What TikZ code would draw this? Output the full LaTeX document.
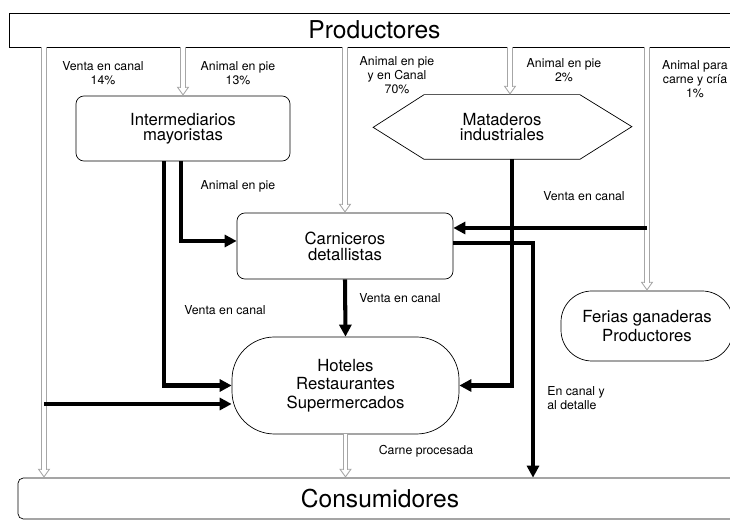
\documentclass[tikz,border=0pt]{standalone}
\usepackage{fontspec}
\setmainfont{TeX Gyre Heros}
\usetikzlibrary{arrows.meta,positioning}

\begin{document}
\begin{tikzpicture}[
	caja/.style={draw, rounded corners=4.5pt, align=center, font=\fontsize{9.5}{10.5}\selectfont},
	titulo/.style={draw, font=\fontsize{14}{16}\selectfont},
	etiq/.style={align=center, inner sep=0pt, font=\fontsize{7}{7.8}\selectfont},
	flujo/.style={line width=2.3pt, -{Triangle[length=6.8pt,width=6.8pt]}},
	gris/.style={draw=gray!70, line width=0.5pt, -{Triangle[open,length=5pt,width=7pt]},
		postaction={draw=gray!70, double=white, double distance=2.2pt, -, shorten >=4.6pt}}
	]
		\useasboundingbox (0,0) rectangle (14.6,10.42);
		% extremos de la cadena
		\node[titulo, minimum width=14.62cm, minimum height=0.68cm] (prod) at (7.49,9.82) {Productores};
		\node[titulo, rounded corners=3pt, minimum width=14.48cm, minimum height=0.82cm] (cons) at (7.6,0.45) {Consumidores};
		% agentes
		\node[caja, minimum width=4.28cm, minimum height=1.3cm] (inter) at (3.66,7.85) {Intermediarios\\[-2.2pt]mayoristas};
		\node[align=center, font=\fontsize{9.5}{10.5}\selectfont, minimum width=3.1cm, minimum height=1.28cm] (mat) at (10.04,7.88) {Mataderos\\[-2.2pt]industriales};
		\draw (mat.north west) -- (mat.north east) -- ++(1.04,-0.64) -- (mat.south east) -- (mat.south west) -- ++(-1.02,0.64) -- cycle;
		\node[caja, minimum width=4.32cm, minimum height=1.32cm] (carn) at (6.9,5.5) {Carniceros\\[-1.5pt]detallistas};
		\node[caja, rounded corners=0.85cm, minimum width=4.54cm, minimum height=1.94cm] (hot) at (6.91,2.71) {Hoteles\\Restaurantes\\Supermercados};
		\node[caja, rounded corners=0.62cm, minimum width=3.44cm, minimum height=1.4cm] (fer) at (12.94,3.9) {Ferias ganaderas\\Productores};
		\coordinate (venta) at (0.88,2.34);
		\coordinate (matn) at ([xshift=0.16cm]mat.north);
		\coordinate (dd) at ([yshift=0.36cm]carn.east);
		% flujos desde productores
		\draw[gris] (prod.south -| venta) -- (cons.north -| venta);
		\draw[gris] (prod.south -| inter.north) -- (inter.north);
		\draw[gris] (prod.south -| carn.north) -- (carn.north);
		\draw[gris] (prod.south -| matn) -- (matn);
		\draw[gris] (prod.south -| fer.north) -- (fer.north);
		\draw[gris] (hot.south) -- (hot.south |- cons.north);
		% flujos de carne
		\draw[flujo] ([xshift=-0.38cm]inter.south) |- (hot.west);
		\draw[flujo] ([xshift=-0.04cm]inter.south) |- ([yshift=0.1cm]carn.west);
		\draw[flujo] ([xshift=0.2cm]mat.south) |- (hot.east);
		\draw[flujo] (dd -| fer.north) -- (dd);
		\draw[flujo] ([yshift=0.06cm]carn.east) -| ([xshift=3.06cm]cons.north);
		\draw[flujo] (carn.south) -- (hot.north);
		\draw[flujo] (venta) -- (venta -| hot.west);
		% etiquetas
		\node[etiq] (l14) at (2.06,8.96) {Venta en canal\\14\%};
		\node[etiq] (l13) at (4.76,8.96) {Animal en pie\\13\%};
		\node[etiq] (l70) at (7.94,8.92) {Animal en pie\\y en Canal\\70\%};
		\node[etiq] (l2) at (11.28,9.02) {Animal en pie\\2\%};
		\node[etiq] (l1) at (13.9,8.84) {Animal para\\carne y cría\\1\%};
		\node[etiq] (lpie) at (4.76,6.7) {Animal en pie};
		\node[etiq] (lcanal1) at (4.5,4.22) {Venta en canal};
		\node[etiq] (lcanal2) at (8.0,4.46) {Venta en canal};
		\node[etiq] (lcanal3) at (11.68,6.5) {Venta en canal};
		\node[etiq, anchor=west, align=left] (ldet) at (10.94,2.46) {En canal y\\al detalle};
		\node[etiq] (lproc) at (8.52,1.4) {Carne procesada};
\end{tikzpicture}
\end{document}
